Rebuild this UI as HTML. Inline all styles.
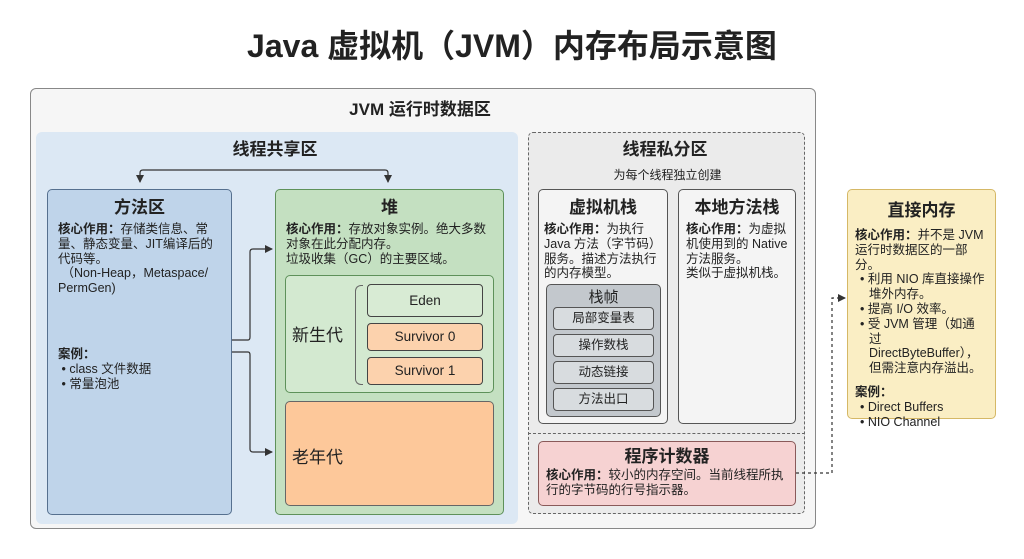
<!DOCTYPE html>
<html><head><meta charset="utf-8"><style>
*{margin:0;padding:0;box-sizing:border-box}
body{width:1024px;height:559px;background:#fff;font-family:"Liberation Sans","Noto Sans CJK SC",sans-serif;color:#222;position:relative;overflow:hidden}
.a{position:absolute}
.t{font-size:12.5px;line-height:14.8px}
.h{font-weight:bold;text-align:center;line-height:20px}
.box{position:absolute;border-radius:5px}
.it{position:absolute;border:1px solid #444;border-radius:4px;text-align:center;font-size:13.5px;line-height:26px}
.sf{position:absolute;left:6px;width:101px;height:23px;border:1px solid #555;border-radius:4px;background:#d8dcdf;text-align:center;font-size:12.5px;line-height:21px}
</style></head><body>
<div class="a h" style="left:0;width:1024px;top:26px;font-size:32px;line-height:40px">Java 虚拟机（JVM）内存布局示意图</div>

<div class="box" style="left:30px;top:88px;width:786px;height:441px;background:#f6f6f6;border:1px solid #888;border-radius:6px"></div>
<div class="a h" style="left:330px;width:180px;top:100px;font-size:17px">JVM 运行时数据区</div>

<div class="box" style="left:36px;top:132px;width:482px;height:392px;background:#dce8f4;border-radius:6px"></div>
<div class="a h" style="left:200px;width:150px;top:140px;font-size:17px">线程共享区</div>

<div class="box" style="left:47px;top:189px;width:185px;height:326px;background:#bfd4ea;border:1px solid #56708f"></div>
<div class="a h" style="left:47px;width:185px;top:198px;font-size:17px">方法区</div>
<div class="a t" style="left:58px;top:222px;width:160px"><b>核心作用：</b>存储类信息、常量、静态变量、JIT编译后的代码等。<br>&nbsp;（Non-Heap，Metaspace/ PermGen)</div>
<div class="a t" style="left:58px;top:347px"><b>案例：</b><br>&nbsp;• class 文件数据<br>&nbsp;• 常量泡池</div>

<div class="box" style="left:275px;top:189px;width:229px;height:326px;background:#c4e0c1;border:1px solid #5e915a"></div>
<div class="a h" style="left:275px;width:229px;top:198px;font-size:17px">堆</div>
<div class="a t" style="left:286px;top:222px;width:206px"><b>核心作用：</b>存放对象实例。绝大多数对象在此分配内存。<br>垃圾收集（GC）的主要区域。</div>
<div class="box" style="left:285px;top:275px;width:209px;height:118px;background:#d3e9d0;border:1px solid #5e915a"></div>
<div class="a" style="left:292px;top:321px;font-size:17px">新生代</div>
<div class="a" style="left:355px;top:285px;width:8px;height:100px;border:1px solid #666;border-right:none;border-radius:6px 0 0 6px"></div>
<div class="it" style="left:367px;top:284px;width:116px;height:33px;background:#d8ebd4;line-height:31px">Eden</div>
<div class="it" style="left:367px;top:323px;width:116px;height:28px;background:#fcd2ad">Survivor 0</div>
<div class="it" style="left:367px;top:357px;width:116px;height:28px;background:#fcd2ad">Survivor 1</div>
<div class="box" style="left:285px;top:401px;width:209px;height:105px;background:#fdc89a;border:1px solid #666"></div>
<div class="a" style="left:292px;top:443px;font-size:17px">老年代</div>

<div class="box" style="left:528px;top:132px;width:277px;height:382px;background:#ebebeb;border:1px dashed #666"></div>
<div class="a" style="left:528px;top:433px;width:277px;border-top:1px dashed #666"></div>
<div class="a h" style="left:580px;width:170px;top:140px;font-size:17px">线程私分区</div>
<div class="a" style="left:580px;width:175px;top:166px;font-size:12px;text-align:center">为每个线程独立创建</div>

<div class="box" style="left:538px;top:189px;width:130px;height:235px;background:#f4f4f4;border:1px solid #555"></div>
<div class="a h" style="left:538px;width:130px;top:198px;font-size:17px">虚拟机栈</div>
<div class="a t" style="left:544px;top:222px;width:118px"><b>核心作用：</b>为执行 Java 方法（字节码）服务。描述方法执行的内存模型。</div>
<div class="box" style="left:546px;top:284px;width:115px;height:133px;background:#c3c8cd;border:1px solid #555">
<div class="a" style="left:0;width:113px;top:1px;text-align:center;font-size:15px">栈帧</div>
<div class="sf" style="top:22px">局部变量表</div>
<div class="sf" style="top:49px">操作数栈</div>
<div class="sf" style="top:76px">动态链接</div>
<div class="sf" style="top:103px">方法出口</div>
</div>

<div class="box" style="left:678px;top:189px;width:118px;height:235px;background:#f4f4f4;border:1px solid #555"></div>
<div class="a h" style="left:678px;width:118px;top:198px;font-size:17px">本地方法栈</div>
<div class="a t" style="left:686px;top:222px;width:104px"><b>核心作用：</b>为虚拟机使用到的 Native 方法服务。<br>类似于虚拟机栈。</div>

<div class="box" style="left:538px;top:441px;width:258px;height:65px;background:#f6d2d2;border:1px solid #8a5a5a"></div>
<div class="a h" style="left:538px;width:258px;top:447px;font-size:17px">程序计数器</div>
<div class="a t" style="left:546px;top:468px;width:242px"><b>核心作用：</b>较小的内存空间。当前线程所执行的字节码的行号指示器。</div>

<div class="box" style="left:847px;top:189px;width:149px;height:230px;background:#faeec4;border:1px solid #d5b866"></div>
<div class="a h" style="left:847px;width:149px;top:201px;font-size:17px">直接内存</div>
<div class="a t" style="left:855px;top:228px;width:132px"><b>核心作用：</b>并不是 JVM运行时数据区的一部分。<br>
<div style="padding-left:14px;text-indent:-9px">• 利用 NIO 库直接操作堆外内存。</div>
<div style="padding-left:14px;text-indent:-9px">• 提高 I/O 效率。</div>
<div style="padding-left:14px;text-indent:-9px">• 受 JVM 管理（如通过 DirectByteBuffer），但需注意内存溢出。</div>
<div style="margin-top:9px"><b>案例：</b></div>
<div style="padding-left:5px">• Direct Buffers</div>
<div style="padding-left:5px">• NIO Channel</div></div>

<svg class="a" style="left:0;top:0" width="1024" height="559">
<defs><marker id="m" markerWidth="8" markerHeight="8" refX="7" refY="4" orient="auto" markerUnits="userSpaceOnUse"><path d="M0,0 L8,4 L0,8 z" fill="#333"/></marker></defs>
<g fill="none" stroke="#333" stroke-width="1.2">
<path d="M264,170 H143 Q140,170 140,173 V182" marker-end="url(#m)"/>
<path d="M264,170 H385 Q388,170 388,173 V182" marker-end="url(#m)"/>
<path d="M232,340 H248 Q250,340 250,337 V252 Q250,249 253,249 H272" marker-end="url(#m)"/>
<path d="M232,352 H248 Q250,352 250,355 V449 Q250,452 253,452 H272" marker-end="url(#m)"/>
<path d="M796,473 H832 V298 H845" stroke-dasharray="3,3" marker-end="url(#m)"/>
</g></svg>
</body></html>
